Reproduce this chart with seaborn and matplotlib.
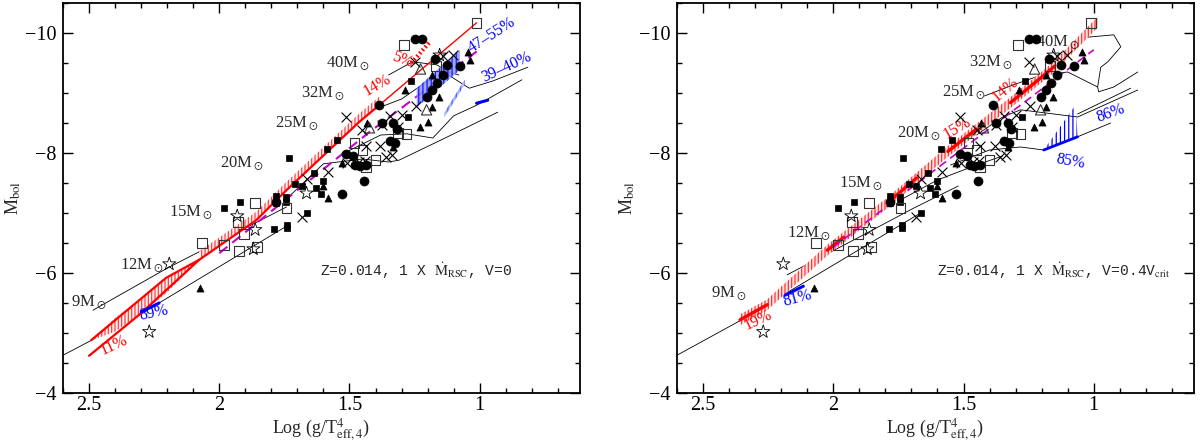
import numpy as np
import pandas as pd
import matplotlib
matplotlib.use("Agg")
import matplotlib.pyplot as plt
import seaborn as sns
from matplotlib.ticker import MultipleLocator

sns.set_theme(style="ticks")
plt.rcParams['font.family'] = ['Liberation Serif', 'DejaVu Serif']
plt.rcParams['mathtext.fontset'] = 'stix'
plt.rcParams['hatch.linewidth'] = 0.9

# ---------------- observed stars (same in both panels) ----------------
fsq_x = [1.981, 1.919, 1.731, 1.708, 1.781, 1.781, 1.742, 1.742, 1.788, 1.738, 1.738,
         1.546, 1.588, 1.638, 1.681, 1.627, 1.600, 1.608, 1.665, 1.265, 1.277]
fsq_y = [-7.08, -7.18, -7.92, -7.48, -7.28, -7.17, -7.27, -7.18, -6.73, -6.80, -6.75,
         -8.22, -8.07, -7.67, -7.45, -7.42, -7.53, -7.32, -7.00, -9.20, -8.60]
osq_x = [2.065, 1.981, 1.923, 1.904, 1.862, 1.854, 1.927, 1.742, 1.450, 1.481, 1.400,
         1.281, 1.315, 1.169, 1.292, 1.012, 1.438]
osq_y = [-6.50, -6.47, -6.37, -6.65, -7.17, -6.43, -6.85, -7.08, -8.05, -8.17, -7.88,
         -8.32, -8.33, -9.45, -9.80, -10.17, -7.77]
fci_x = [1.781, 1.512, 1.488, 1.477, 1.458, 1.438, 1.527, 1.446, 1.346, 1.327, 1.388,
         1.377, 1.331, 1.319, 1.250, 1.223, 1.173, 1.077, 1.127, 1.204, 1.165, 1.142, 1.185]
fci_y = [-7.18, -7.98, -7.95, -7.80, -7.78, -7.80, -7.32, -7.53, -8.20, -8.17, -8.80,
         -8.50, -8.50, -8.40, -9.90, -9.90, -9.57, -9.45, -9.47, -8.93, -9.17, -9.30, -9.05]
ftr_x = [2.073, 1.600, 1.581, 1.527, 1.331, 1.431, 1.288, 1.185, 1.046, 1.038, 1.231,
         1.200, 1.185, 1.158]
ftr_y = [-5.75, -7.45, -7.25, -7.83, -8.10, -8.50, -9.05, -9.30, -9.68, -9.55, -8.43,
         -8.52, -8.77, -8.93]
otr_x = [1.227, 1.423, 1.204]
otr_y = [-9.40, -8.42, -8.72]
crs_x = [1.681, 1.665, 1.581, 1.508, 1.462, 1.435, 1.442, 1.358, 1.338, 1.381, 1.512,
         1.450, 1.346, 1.312, 1.246, 1.250, 1.142, 1.104, 1.300, 1.377]
crs_y = [-6.93, -7.57, -7.68, -7.83, -7.85, -8.12, -7.87, -7.93, -7.97, -8.12, -8.60,
         -8.38, -8.62, -8.43, -8.78, -9.52, -9.62, -9.63, -8.63, -8.47]
str_x = [2.192, 2.269, 1.931, 1.862, 1.869, 1.665, 1.154]
str_y = [-6.15, -5.02, -6.95, -6.72, -6.40, -7.33, -9.63]

# ---------------- left panel models (V=0) ----------------
L_tracks = {
    "9": ([2.604, 2.49, 2.30, 1.742], [-4.62, -4.88, -5.32, -6.78]),
    "12": ([2.485, 2.20, 1.742], [-5.38, -6.08, -7.10]),
    "15": ([1.75, 1.60, 1.45, 1.35, 1.31, 1.142, 0.931], [-7.20, -7.82, -7.90, -7.85, -7.88, -8.23, -8.68]),
    "20": ([1.52, 1.38, 1.28, 1.18, 1.10, 1.01, 0.838], [-8.00, -8.30, -8.32, -8.25, -8.62, -8.80, -9.22]),
    "25": ([1.42, 1.30, 1.20, 1.12, 1.04, 0.95, 0.815], [-8.70, -8.90, -9.20, -9.30, -9.08, -9.20, -9.43]),
    "32": ([1.35, 1.258, 1.165, 1.12, 1.08], [-9.30, -9.52, -9.47, -9.35, -9.30]),
}
L_red_x = [2.492, 2.204, 2.077, 1.858, 1.742, 1.462, 1.385]
L_red_y = [-4.88, -5.92, -6.22, -6.88, -7.38, -8.52, -8.80]
L_redthin_x = [1.385, 1.012]
L_redthin_y = [-8.80, -10.17]
L_red2_x = [2.50, 2.30, 2.077]
L_red2_y = [-4.62, -5.33, -6.22]
L_hatch_x = [2.49, 2.40, 2.30, 2.204, 2.077]
L_hatch_lo = [-4.88, -5.02, -5.33, -5.66, -6.22]
L_hatch_hi = [-4.88, -5.25, -5.57, -5.92, -6.22]
L_band_x = [2.077, 1.858, 1.742, 1.462, 1.385]
L_band_lo = [-6.22, -6.88, -7.38, -8.52, -8.80]
L_band_hi = [-6.36, -7.02, -7.52, -8.66, -8.94]
L_5pc_x = [1.262, 1.192]
L_5pc_y = [-9.50, -9.85]
L_mag_x = [2.00, 1.423, 1.00]
L_mag_y = [-6.33, -8.35, -9.73]
L_blue89_x = [2.300, 2.231]
L_blue89_y = [-5.35, -5.50]
L_bband_x = [1.242, 1.077]
L_bband_lo = [-8.76, -9.38]
L_bband_hi = [-9.08, -9.72]
L_b39_x = [1.135, 1.058]
L_b39_lo = [-8.60, -9.14]
L_b39_hi = [-8.68, -9.22]
L_bdash_x = [1.012, 0.969]
L_bdash_y = [-8.83, -8.88]

# ---------------- right panel models (V=0.4Vcrit) ----------------
R_tracks = {
    "9": ([2.60, 2.36, 1.665], [-4.63, -5.20, -7.00]),
    "12": ([2.177, 1.90, 1.692, 1.52], [-5.97, -6.60, -7.08, -7.45]),
    "15": ([1.75, 1.60, 1.45, 1.35], [-7.20, -7.55, -7.80, -7.95]),
    "20": ([1.55, 1.40, 1.281, 1.192, 1.062, 0.935], [-7.80, -8.05, -8.10, -8.05, -8.27, -8.50]),
    "25": ([1.45, 1.35, 1.281, 1.062, 0.831], [-8.30, -8.60, -8.72, -8.60, -9.05]),
    "25b": ([1.062, 0.858], [-8.65, -9.08]),
    "32": ([1.42, 1.30, 1.20, 1.10, 0.985], [-8.95, -9.15, -9.30, -9.35, -9.10]),
    "40": ([1.05, 0.923, 0.896, 0.946, 0.973, 0.985, 0.981, 0.923, 0.831],
           [-9.92, -9.97, -9.77, -9.52, -9.43, -9.10, -9.02, -9.10, -9.35]),
}
R_red_x = [2.358, 2.254, 2.023, 1.792, 1.562, 1.308, 1.154, 0.985]
R_red_y = [-5.22, -5.47, -6.38, -7.17, -8.02, -8.88, -9.43, -10.18]
R_red_solid = [(2.358, 2.254), (2.023, 1.96), (1.79, 1.68), (1.56, 1.45), (1.32, 1.15)]
R_mag_x = [2.00, 1.50, 1.00]
R_mag_y = [-6.43, -8.08, -9.72]
R_blue81_x = [2.185, 2.115]
R_blue81_y = [-5.63, -5.78]
R_btri_x = [1.192, 1.062, 1.070]
R_btri_y = [-8.05, -8.27, -8.80]

# ---------------- labels ----------------
mass_labels = ["9", "12", "15", "20", "25", "32", "40"]
L_mass_x = [2.500, 2.296, 2.108, 1.912, 1.704, 1.604, 1.508]
L_mass_y = [-5.52, -6.13, -7.02, -7.83, -8.50, -9.00, -9.50]
R_mass_x = [2.401, 2.093, 1.893, 1.670, 1.500, 1.396, 1.138]
R_mass_y = [-5.67, -6.67, -7.50, -8.33, -9.02, -9.52, -9.85]

L_pct = [("11%", 2.404, -4.80, 25, "red"), ("89%", 2.250, -5.33, 12, "blue"),
         ("14%", 1.392, -9.13, 30, "red"), ("5%", 1.296, -9.55, -20, "red"),
         ("47\u201355%", 0.954, -9.97, 33, "blue"), ("39\u201340%", 0.896, -9.43, 25, "blue")]
R_pct = [("19%", 2.288, -5.22, 25, "red"), ("81%", 2.138, -5.58, 15, "blue"),
         ("15%", 1.523, -8.42, 30, "red"), ("14%", 1.338, -9.05, 40, "red"),
         ("86%", 0.935, -8.67, 20, "blue"), ("85%", 1.088, -7.85, -10, "blue")]

RED = "#ff0000"
BLUE = "#0000ff"
MAG = "#cc00cc"

fig = plt.figure(figsize=(12, 4.43), dpi=100)
ax1 = fig.add_axes([0.0525, 0.1129, 0.4308, 0.8803])
ax2 = fig.add_axes([0.5642, 0.1129, 0.4308, 0.8803])


def line(ax, x, y, **kw):
    d = pd.DataFrame({"x": x, "y": y})
    sns.lineplot(data=d, x="x", y="y", ax=ax, sort=False, estimator=None, legend=False, **kw)


def draw_obs(ax):
    sns.scatterplot(x=fsq_x, y=fsq_y, ax=ax, marker="s", s=24, color="black", edgecolor="black", linewidth=0.5, zorder=5)
    sns.scatterplot(x=osq_x, y=osq_y, ax=ax, marker="s", s=50, facecolor="none", edgecolor="#333333", linewidth=0.8, zorder=5)
    sns.scatterplot(x=fci_x, y=fci_y, ax=ax, marker="o", s=42, color="black", edgecolor="black", linewidth=0.5, zorder=5)
    sns.scatterplot(x=ftr_x, y=ftr_y, ax=ax, marker="^", s=26, color="black", edgecolor="black", linewidth=0.5, zorder=5)
    sns.scatterplot(x=otr_x, y=otr_y, ax=ax, marker="^", s=55, facecolor="none", edgecolor="#333333", linewidth=0.8, zorder=5)
    sns.scatterplot(x=crs_x, y=crs_y, ax=ax, marker="x", s=50, color="black", linewidth=0.8, zorder=5)
    sns.scatterplot(x=str_x, y=str_y, ax=ax, marker="*", s=100, facecolor="none", edgecolor="black", linewidth=0.6, zorder=5)


def style(ax):
    ax.set_xlim(2.6, 0.615)
    ax.set_ylim(-4.0, -10.5)
    ax.xaxis.set_major_locator(MultipleLocator(0.5))
    ax.xaxis.set_minor_locator(MultipleLocator(0.1))
    ax.yaxis.set_major_locator(MultipleLocator(2))
    ax.yaxis.set_minor_locator(MultipleLocator(0.5))
    ax.set_xticks([2.5, 2.0, 1.5, 1.0])
    ax.set_xticklabels(["2.5", "2", "1.5", "1"])
    ax.set_yticks([-10, -8, -6, -4])
    ax.set_yticklabels(["\u221210", "\u22128", "\u22126", "\u22124"])
    ax.tick_params(which="both", direction="in", top=True, right=True, colors="black", labelsize=14.5, width=1.0)
    ax.tick_params(which="major", length=7)
    ax.tick_params(axis="x", which="major", pad=2)
    ax.tick_params(axis="y", which="major", pad=5)
    ax.tick_params(which="minor", length=3.5)
    for s in ax.spines.values():
        s.set_linewidth(1.3)
        s.set_color("black")
    ax.set_xlabel(r"Log (g/T$^{4}_{\rm eff,4}$)", fontsize=13)
    ax.xaxis.set_label_coords(0.5, -0.062)
    ax.set_ylabel(r"M$_{\rm bol}$", fontsize=13, labelpad=1)
    ax.grid(False)


# ---- left panel
for k, (x, y) in L_tracks.items():
    line(ax1, x, y, color="black", linewidth=0.6)
ax1.fill_between(L_hatch_x, L_hatch_lo, L_hatch_hi, facecolor="#fff0f0", edgecolor="#ff4040", hatch="|||||", linewidth=0, zorder=3)
ax1.fill_between(L_band_x, L_band_lo, L_band_hi, facecolor="#fff0f0", edgecolor="#ff4040", hatch="|||||", linewidth=0, zorder=3)
line(ax1, L_red_x, L_red_y, color=RED, linewidth=1.6, zorder=4)
line(ax1, L_redthin_x, L_redthin_y, color=RED, linewidth=1.0, zorder=4)
line(ax1, L_red2_x, L_red2_y, color=RED, linewidth=1.6, zorder=4)
line(ax1, L_5pc_x, L_5pc_y, color=RED, linewidth=3, linestyle=(0, (0.4, 0.6)), zorder=4)
line(ax1, L_mag_x, L_mag_y, color=MAG, linewidth=1.5, linestyle=(0, (5, 3)), zorder=4)
line(ax1, L_blue89_x, L_blue89_y, color=BLUE, linewidth=2.2, zorder=4)
ax1.fill_between(L_bband_x, L_bband_lo, L_bband_hi, facecolor="#8f98ff", edgecolor=BLUE, hatch="||||", linewidth=0, alpha=0.85, zorder=4)
ax1.fill_between(L_b39_x, L_b39_lo, L_b39_hi, facecolor="#b0b8ff", edgecolor="#5060ff", hatch="||||", linewidth=0, zorder=4)
line(ax1, L_bdash_x, L_bdash_y, color=BLUE, linewidth=2.2, zorder=4)
draw_obs(ax1)
for lab, x, y in zip(mass_labels, L_mass_x, L_mass_y):
    ax1.text(x, y, lab + r"M$_\odot$", fontsize=12, ha="center", va="center")
for t, x, y, r, c in L_pct:
    ax1.text(x, y, t, fontsize=11.5, color=c, rotation=r, ha="center", va="center")
ax1.text(1.615, -6.03, r"Z=0.014, 1 X $\dot{\rm M}_{\rm RSC}$, V=0", fontsize=10.5,
         family=["Liberation Mono", "DejaVu Sans Mono"], ha="left", va="center")
style(ax1)

# ---- right panel
for k, (x, y) in R_tracks.items():
    line(ax2, x, y, color="black", linewidth=0.6)
r_lo = [v + 0.09 for v in R_red_y]
r_hi = [v - 0.09 for v in R_red_y]
ax2.fill_between(R_red_x, r_lo, r_hi, facecolor="#ffe4e4", edgecolor="#ff3030", hatch="|||||", linewidth=0, zorder=3)
for a, b in R_red_solid:
    xs = np.linspace(a, b, 5)
    ys = np.interp(xs[::-1], R_red_x[::-1], R_red_y[::-1])[::-1]
    line(ax2, xs, ys, color=RED, linewidth=2.4, zorder=4)
line(ax2, R_mag_x, R_mag_y, color=MAG, linewidth=1.2, linestyle=(0, (5, 3)), zorder=4)
line(ax2, R_blue81_x, R_blue81_y, color=BLUE, linewidth=2.2, zorder=4)
ax2.fill(R_btri_x, R_btri_y, facecolor="none", edgecolor=BLUE, hatch="||||", linewidth=0, zorder=4)
line(ax2, R_btri_x[:2], R_btri_y[:2], color=BLUE, linewidth=2.0, zorder=4)
draw_obs(ax2)
for lab, x, y in zip(mass_labels, R_mass_x, R_mass_y):
    ax2.text(x, y, lab + r"M$_\odot$", fontsize=12, ha="center", va="center")
for t, x, y, r, c in R_pct:
    ax2.text(x, y, t, fontsize=11.5, color=c, rotation=r, ha="center", va="center")
ax2.text(1.60, -6.03, r"Z=0.014, 1 X $\dot{\rm M}_{\rm RSC}$, V=0.4V$_{\rm crit}$", fontsize=10.5,
         family=["Liberation Mono", "DejaVu Sans Mono"], ha="left", va="center")
style(ax2)

fig.savefig("out.png", dpi=100)
